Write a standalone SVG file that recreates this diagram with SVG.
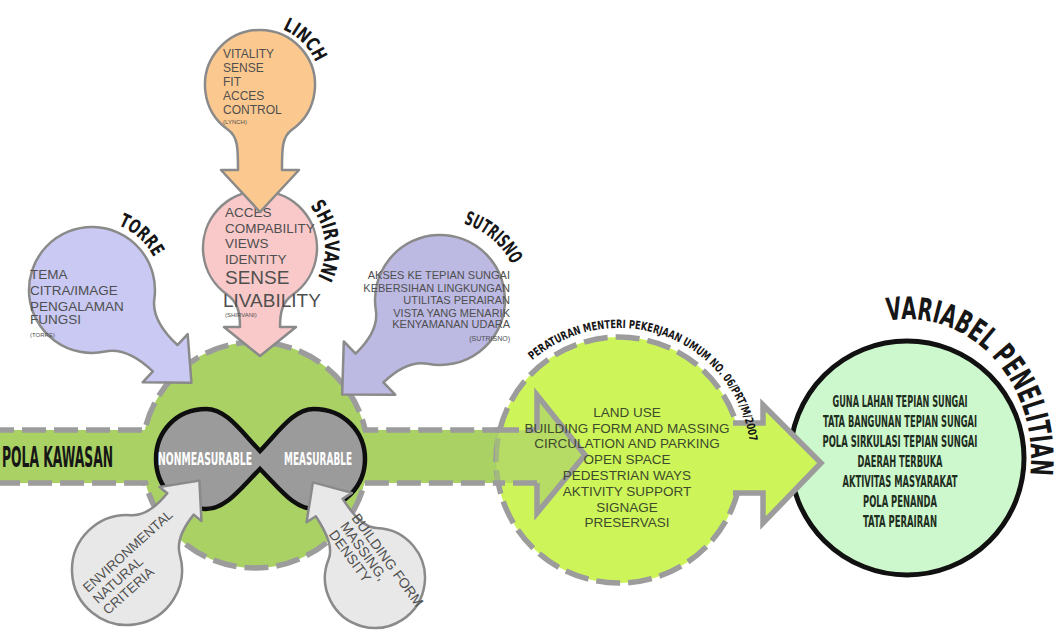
<svg xmlns="http://www.w3.org/2000/svg" width="1059" height="630" viewBox="0 0 1059 630">
<defs>
<style>
.body{font-family:"Liberation Sans",Arial,sans-serif;fill:#4f4f4f}
.cond{font-family:"DejaVu Sans Condensed","Liberation Sans Narrow","Liberation Sans",sans-serif;font-weight:bold}
.title{fill:#161616}
.bal{stroke:#8a8a8a;stroke-width:2.5;stroke-linejoin:round}
.gdash{stroke:#9c9c9c;stroke-width:5.5;stroke-dasharray:24 8}
.mid{font-family:"Liberation Sans",Arial,sans-serif;font-size:13.5px;fill:#3d4a2c;text-anchor:middle}
.res{fill:#1e2e1e;font-size:15px;text-anchor:middle}
</style>
<path id="arc-linch" d="M282.5,29.4 A60,60 0 0 1 317.1,66.5"/>
<path id="arc-shirvani" d="M309.8,206.2 A65,65 0 0 1 317.4,278.5"/>
<path id="arc-torre" d="M118.2,225.1 A70,70 0 0 1 153.8,257.2"/>
<path id="arc-sutrisno" d="M463.4,223.5 A80,80 0 0 1 511.9,265"/>
<path id="arc-peraturan" d="M532.4,360.3 A132,132 0 0 1 749.7,441.6"/>
<path id="arc-variabel" d="M887.7,320.7 A124,139 0 0 1 1029.5,479.7"/>
</defs>
<rect width="1059" height="630" fill="#ffffff"/>

<!-- Pola Kawasan: green circle with bar -->
<g id="pola-kawasan">
<path d="M-10,430 L144.8,430 A113,113 0 0 1 365.2,430 L505,430 L505,483 L364.5,483 A113,113 0 0 1 145.5,483 L-10,483 Z" fill="#a9d164" class="gdash"/>
<text class="cond title" x="2" y="467" font-size="28" textLength="111" lengthAdjust="spacingAndGlyphs" fill="#20241a">POLA KAWASAN</text>
</g>

<!-- Middle circle: Peraturan -->
<g id="peraturan">
<circle cx="619" cy="460" r="123" fill="#cdf55a" class="gdash"/>
</g>

<!-- Connectors -->
<g id="connectors">
<path d="M495,430 L537,430 L537,395 L585,455 L537,513 L537,483 L495,483 Z" fill="#a7cb6c" fill-opacity="0.6"/>
<path d="M495,430 L537,430 M537,483 L495,483" fill="none" class="gdash"/>
<path d="M537,430 L537,395 L585,455 L537,513 L537,483" fill="none" stroke="#9c9c9c" stroke-width="5.5" stroke-linejoin="miter"/>
</g>

<!-- Right circle: Variabel Penelitian -->
<g id="variabel-penelitian">
<circle cx="907" cy="458" r="117" fill="#cdf7cc" stroke="#111" stroke-width="5"/>
<text class="cond res" x="900" y="407" textLength="135" lengthAdjust="spacingAndGlyphs">GUNA LAHAN TEPIAN SUNGAI</text>
<text class="cond res" x="900" y="427" textLength="154" lengthAdjust="spacingAndGlyphs">TATA BANGUNAN TEPIAN SUNGAI</text>
<text class="cond res" x="900" y="447" textLength="155" lengthAdjust="spacingAndGlyphs">POLA SIRKULASI TEPIAN SUNGAI</text>
<text class="cond res" x="900" y="467" textLength="85" lengthAdjust="spacingAndGlyphs">DAERAH TERBUKA</text>
<text class="cond res" x="900" y="487" textLength="115" lengthAdjust="spacingAndGlyphs">AKTIVITAS MASYARAKAT</text>
<text class="cond res" x="900" y="507" textLength="74" lengthAdjust="spacingAndGlyphs">POLA PENANDA</text>
<text class="cond res" x="900" y="527" textLength="74" lengthAdjust="spacingAndGlyphs">TATA PERAIRAN</text>
<text class="cond title" font-size="31"><textPath href="#arc-variabel" textLength="243" lengthAdjust="spacingAndGlyphs">VARIABEL PENELITIAN</textPath></text>
</g>

<g id="connector-out">
<path d="M733,423 L763,423 L763,405 L821,463 L763,523 L763,493 L733,493 Z" fill="#cdf55a"/>
<path d="M733,423 L763,423 L763,405 L821,463 L763,523 L763,493 L733,493" fill="none" stroke="#9c9c9c" stroke-width="5.5"/>
</g>

<g id="peraturan-text">
<text class="mid" x="627" y="417">LAND USE</text>
<text class="mid" x="627" y="433">BUILDING FORM AND MASSING</text>
<text class="mid" x="627" y="448">CIRCULATION AND PARKING</text>
<text class="mid" x="627" y="464">OPEN SPACE</text>
<text class="mid" x="627" y="480">PEDESTRIAN WAYS</text>
<text class="mid" x="627" y="496">AKTIVITY SUPPORT</text>
<text class="mid" x="627" y="512">SIGNAGE</text>
<text class="mid" x="627" y="527">PRESERVASI</text>
<text class="cond title" font-size="11.5"><textPath href="#arc-peraturan" textLength="283" lengthAdjust="spacingAndGlyphs">PERATURAN MENTERI PEKERJAAN UMUM NO. 06/PRT/M/2007</textPath></text>
</g>

<!-- Measurable / Nonmeasurable -->
<g id="measurable">
<path d="M260,451 C240,430 226,409 206,409 C176,409 156,432 156,459 C156,486 176,509 206,509 C226,509 240,489 260,469 C280,489 294,509 314,509 C344,509 365,486 365,459 C365,432 344,409 314,409 C294,409 280,430 260,451 Z" fill="#9b9b9b" stroke="#0e0e0e" stroke-width="4.5"/>
<text class="cond" x="205" y="465" font-size="17" fill="#ffffff" text-anchor="middle" textLength="94" lengthAdjust="spacingAndGlyphs">NONMEASURABLE</text>
<text class="cond" x="318" y="465" font-size="17" fill="#ffffff" text-anchor="middle" textLength="68" lengthAdjust="spacingAndGlyphs">MEASURABLE</text>
</g>

<!-- Shirvani -->
<g id="shirvani">
<path transform="translate(260,248)" class="bal" fill="#f9c9c9" d="M-20,79 C-20,63 -22.9,53.6 -32.7,46.7 A57,57 0 1 1 32.7,46.7 C22.9,53.6 20,63 20,79 L36,79 L0,108 L-36,79 Z"/>
<text class="body" x="225" y="217" font-size="13.5">ACCES</text>
<text class="body" x="225" y="233" font-size="13.5">COMPABILITY</text>
<text class="body" x="225" y="248" font-size="13.5">VIEWS</text>
<text class="body" x="225" y="264" font-size="13.5">IDENTITY</text>
<text class="body" x="225" y="284" font-size="19">SENSE</text>
<text class="body" x="223" y="307" font-size="19">LIVABILITY</text>
<text class="body" x="225" y="317" font-size="6">(SHIRVANI)</text>
<text class="cond title" font-size="20"><textPath href="#arc-shirvani" textLength="76" lengthAdjust="spacingAndGlyphs">SHIRVANI</textPath></text>
</g>

<!-- Linch -->
<g id="linch">
<path transform="translate(260,85)" class="bal" fill="#fbc98f" d="M-22,85 C-22,65 -21.8,51.9 -31.6,45 A55,55 0 1 1 31.6,45 C21.8,51.9 22,65 22,85 L39,85 L0,127 L-39,85 Z"/>
<text class="body" x="223" y="58" font-size="12">VITALITY</text>
<text class="body" x="223" y="72" font-size="12">SENSE</text>
<text class="body" x="223" y="86" font-size="12">FIT</text>
<text class="body" x="223" y="100" font-size="12">ACCES</text>
<text class="body" x="223" y="114" font-size="12">CONTROL</text>
<text class="body" x="223" y="124" font-size="6">(LYNCH)</text>
<text class="cond title" font-size="19"><textPath href="#arc-linch" textLength="48" lengthAdjust="spacingAndGlyphs">LINCH</textPath></text>
</g>

<!-- Torre -->
<g id="torre">
<path transform="translate(92,290) rotate(-47)" class="bal" fill="#c9c9f3" d="M-18,100 C-18,76 -24.6,59.6 -36.1,51.6 A63,63 0 1 1 36.1,51.6 C24.6,59.6 18,76 18,100 L33,100 L0,136 L-33,100 Z"/>
<text class="body" x="30" y="279" font-size="13.5">TEMA</text>
<text class="body" x="30" y="295" font-size="13.5">CITRA/IMAGE</text>
<text class="body" x="30" y="311" font-size="13.5">PENGALAMAN</text>
<text class="body" x="30" y="324" font-size="13.5">FUNGSI</text>
<text class="body" x="30" y="337" font-size="6">(TORRE)</text>
<text class="cond title" font-size="19"><textPath href="#arc-torre" textLength="49" lengthAdjust="spacingAndGlyphs">TORRE</textPath></text>
</g>

<!-- Sutrisno -->
<g id="sutrisno">
<path transform="translate(440,300) rotate(46)" class="bal" fill="#bcb9e2" d="M-20,98 C-20,76 -25.8,61.2 -37.3,53.2 A65,65 0 1 1 37.3,53.2 C25.8,61.2 20,76 20,98 L37,98 L0,136 L-37,98 Z"/>
<g class="body" font-size="11" text-anchor="end" fill="#44445a">
<text x="510" y="279">AKSES KE TEPIAN SUNGAI</text>
<text x="510" y="292">KEBERSIHAN LINGKUNGAN</text>
<text x="510" y="304">UTILITAS PERAIRAN</text>
<text x="510" y="317">VISTA YANG MENARIK</text>
<text x="510" y="328">KENYAMANAN UDARA</text>
<text x="510" y="341" font-size="7">(SUTRISNO)</text>
</g>
<text class="cond title" font-size="19"><textPath href="#arc-sutrisno" textLength="65" lengthAdjust="spacingAndGlyphs">SUTRISNO</textPath></text>
</g>

<!-- Environmental -->
<g id="environmental">
<path transform="translate(127,570) rotate(-141)" class="bal" fill="#e8e8e8" d="M-17,85 C-17,65 -21.8,51.9 -31.6,45 A55,55 0 1 1 31.6,45 C21.8,51.9 17,65 17,85 L27,85 L0,115 L-27,85 Z"/>
<text class="body" font-size="13.5" transform="translate(88,593) rotate(-42)"><tspan x="0" y="0">ENVIRONMENTAL</tspan><tspan x="0" y="15">NATURAL</tspan><tspan x="0" y="30">CRITERIA</tspan></text>
</g>

<!-- Building form -->
<g id="building-form">
<path transform="translate(375,578) rotate(147)" class="bal" fill="#e8e8e8" d="M-16,84 C-16,62.5 -18.9,47.9 -28.7,41 A50,50 0 1 1 28.7,41 C18.9,47.9 16,62.5 16,84 L27,84 L0,114 L-27,84 Z"/>
<text class="body" font-size="14" transform="translate(351,518) rotate(54)"><tspan x="0" y="0">BUILDING FORM</tspan><tspan x="0" y="14">MASSING,</tspan><tspan x="0" y="28">DENSITY</tspan></text>
</g>
</svg>
